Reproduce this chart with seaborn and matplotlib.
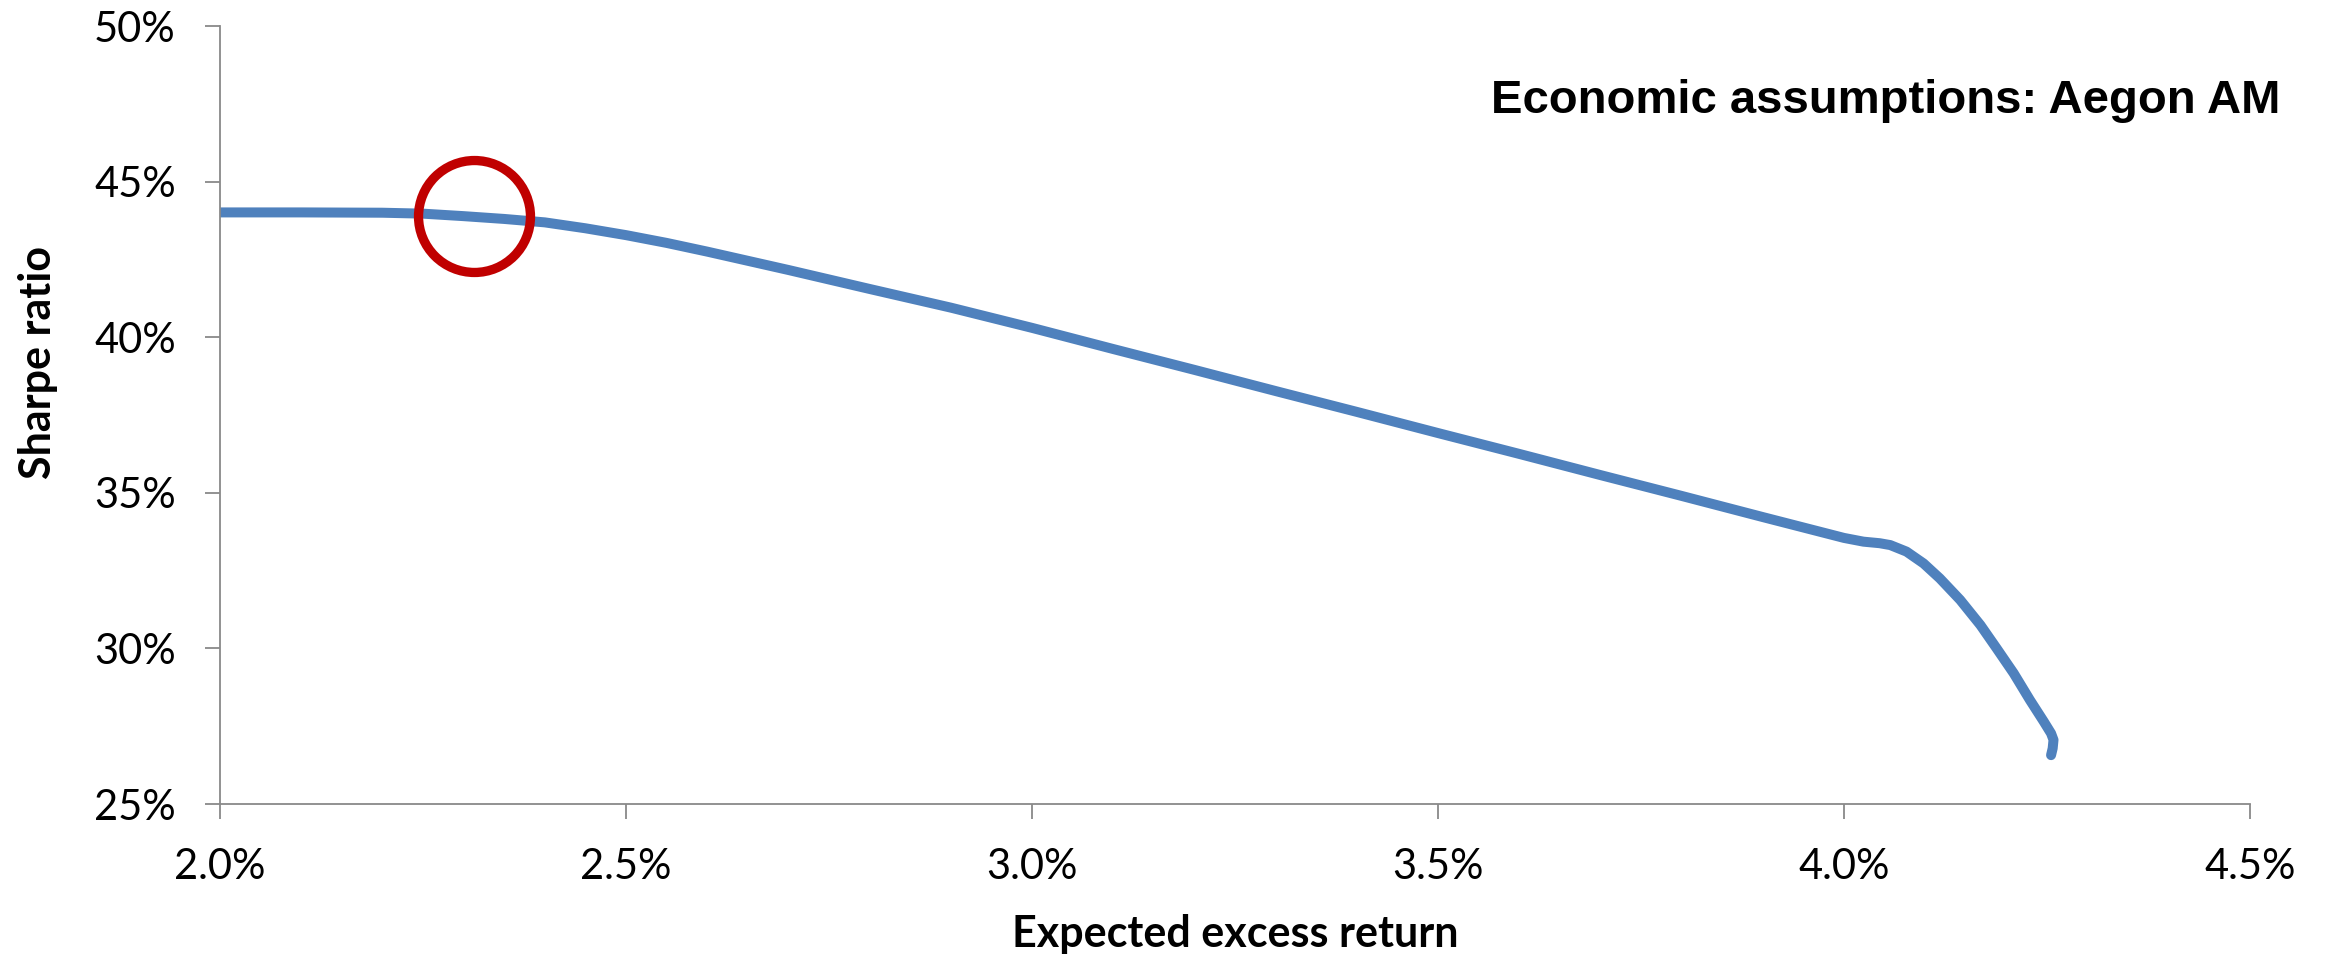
import matplotlib
matplotlib.use("Agg")
import matplotlib.pyplot as plt
from matplotlib.ticker import FixedLocator, FuncFormatter
import pandas as pd
import seaborn as sns

# Efficient-frontier trade-off: Sharpe ratio versus expected excess return (both in %)
expected_excess_return = [
    2.00, 2.10, 2.20, 2.25, 2.30, 2.35, 2.40, 2.45, 2.50, 2.55, 2.60, 2.70, 2.80,
    2.90, 3.00, 3.10, 3.20, 3.30, 3.40, 3.50, 3.60, 3.70, 3.80, 3.90, 4.00,
    4.024, 4.044, 4.057, 4.077, 4.098, 4.118, 4.143, 4.168, 4.188, 4.209,
    4.229, 4.246, 4.255, 4.258, 4.257, 4.255,
]
sharpe_ratio = [
    44.01, 44.01, 44.00, 43.97, 43.89, 43.80, 43.69, 43.50, 43.28, 43.03, 42.75, 42.16, 41.55,
    40.95, 40.30, 39.62, 38.95, 38.27, 37.60, 36.92, 36.25, 35.57, 34.90, 34.22, 33.55,
    33.43, 33.38, 33.32, 33.11, 32.73, 32.25, 31.56, 30.75, 30.00, 29.20,
    28.34, 27.65, 27.27, 27.06, 26.79, 26.57,
]

# Highlighted portfolio
highlight_return = 2.313
highlight_sharpe = 43.90

x_ticks = [2.0, 2.5, 3.0, 3.5, 4.0, 4.5]
y_ticks = [25, 30, 35, 40, 45, 50]

title_text = "Economic assumptions: Aegon AM"
x_label = "Expected excess return"
y_label = "Sharpe ratio"

frontier = pd.DataFrame({"ret": expected_excess_return, "sharpe": sharpe_ratio})

sns.set_theme(style="white")
plt.rcParams["font.family"] = ["Lato", "DejaVu Sans"]
plt.rcParams["text.color"] = "black"
plt.rcParams["axes.labelcolor"] = "black"

W, H = 2333, 957
fig = plt.figure(figsize=(W / 100, H / 100), dpi=100)
ax = fig.add_axes([220 / W, 1 - 804 / H, (2250 - 220) / W, (804 - 26) / H])

line_color = "#4F81BD"
axis_color = "#898989"

sns.lineplot(
    data=frontier, x="ret", y="sharpe", ax=ax, sort=False, estimator=None,
    color=line_color, linewidth=7.2, solid_capstyle="round", solid_joinstyle="round",
)

ax.plot(
    [highlight_return], [highlight_sharpe], marker="o", markersize=80.6,
    markerfacecolor="none", markeredgecolor="#C00000", markeredgewidth=6.7,
    linestyle="none", zorder=5,
)

ax.set_xlim(x_ticks[0], x_ticks[-1])
ax.set_ylim(y_ticks[0], y_ticks[-1])
ax.xaxis.set_major_locator(FixedLocator(x_ticks))
ax.yaxis.set_major_locator(FixedLocator(y_ticks))
ax.xaxis.set_major_formatter(FuncFormatter(lambda v, p: f"{v:.1f}%"))
ax.yaxis.set_major_formatter(FuncFormatter(lambda v, p: f"{v:.0f}%"))

for side in ("top", "right"):
    ax.spines[side].set_visible(False)
for side in ("left", "bottom"):
    ax.spines[side].set_color(axis_color)
    ax.spines[side].set_linewidth(1.3)

ax.tick_params(axis="both", which="major", direction="out", length=10.8, width=1.3,
               color=axis_color, labelsize=30, labelcolor="black")
ax.tick_params(axis="x", pad=21, bottom=True)
ax.tick_params(axis="y", pad=21, left=True)
ax.grid(False)

ax.set_xlabel(x_label, fontsize=31, fontweight="bold", color="black")
ax.set_ylabel(y_label, fontsize=31, fontweight="bold", color="black")
ax.xaxis.set_label_coords(0.5, (804 - 947) / 778)
ax.xaxis.label.set_verticalalignment("baseline")
ax.yaxis.set_label_coords((38 - 220) / 2030, (804 - 362) / 778)
ax.yaxis.label.set_verticalalignment("center")

fig.text(2280 / W, 1 - 113 / H, title_text, ha="right", va="baseline",
         fontsize=34, fontweight="bold", color="black",
         family=["Liberation Sans Narrow", "Liberation Sans", "DejaVu Sans"])

fig.savefig("out.png", dpi=100, facecolor="white")
